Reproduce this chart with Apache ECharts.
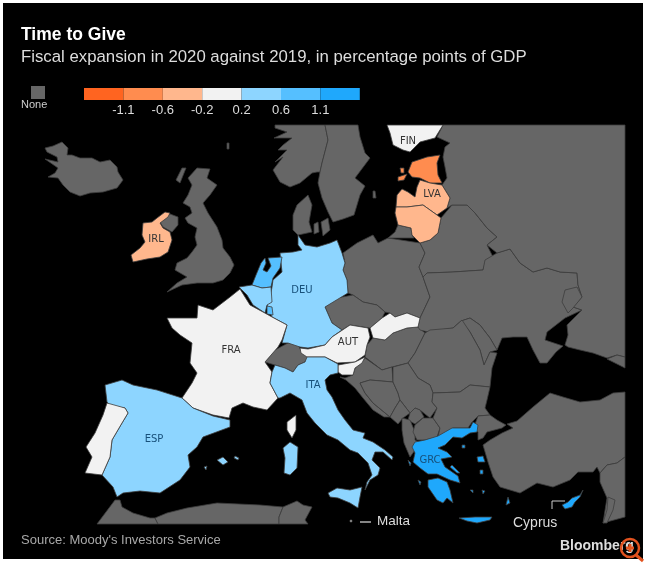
<!DOCTYPE html>
<html>
<head>
<meta charset="utf-8">
<title>Time to Give</title>
<script src="https://cdn.jsdelivr.net/npm/echarts@6/dist/echarts.min.js"></script>
<style>
  html, body { margin: 0; background: #fff; }
  #frame { position: absolute; left: 3px; top: 3px; width: 640px; height: 556px; background: #000; }
  #chart { position: absolute; left: 0; top: 0; width: 648px; height: 566px; }
</style>
</head>
<body>
<div id="frame"></div>
<div id="chart"></div>
<script>
const countries = ['IRL', 'EST', 'LVA', 'LTU', 'FIN', 'FRA', 'PRT', 'AUT', 'SVN', 'SVK', 'MLT', 'ESP', 'DEU', 'BEL', 'ITA', 'NLD', 'LUX', 'GRC', 'CYP'];
const expansion = [-0.4, -0.9, -0.4, -0.4, 0, 0, 0, 0, 0, 0, 0, 0.4, 0.4, 0.4, 0.4, 0.8, 0.8, 1.3, 1.3];
const labelled = ['FIN', 'LVA', 'IRL', 'DEU', 'FRA', 'AUT', 'ITA', 'ESP', 'GRC'];
const blueLabels = ['DEU', 'ITA', 'ESP', 'GRC'];
const legendBreaks = [-1.1, -0.6, -0.2, 0.2, 0.6, 1.1];
const legendColors = ['#ff6420', '#ff8c4f', '#ffb78d', '#f2f2f2', '#8dd5ff', '#55bfff', '#1fa8fc'];

// where the country code sits inside each labelled shape
const labelSpots = {
  FIN: [408, 141], LVA: [432, 194], IRL: [156, 239], DEU: [302, 290], FRA: [231, 350],
  AUT: [348, 342], ITA: [313, 385], ESP: [154, 439], GRC: [430, 460]
};

// base map: hand traced outlines, one list of rings per country, in the map's own plane
const outlines = {
  ISL: [[[45,148],[53,146],[62,142],[68,148],[67,155],[72,155],[80,158],[92,158],[100,162],[110,160],[117,167],[118,172],[123,180],[117,188],[103,192],[90,193],[80,196],[70,192],[63,185],[58,178],[48,177],[55,173],[58,168],[45,159],[58,162],[57,157],[47,152]]],
  GBR: [[[197,168],[210,169],[207,178],[217,185],[210,195],[203,203],[208,213],[217,227],[222,240],[223,248],[230,257],[234,265],[230,273],[223,280],[213,283],[197,283],[182,285],[167,292],[177,283],[187,277],[175,270],[177,263],[187,258],[192,252],[197,245],[195,237],[197,228],[188,223],[185,218],[192,213],[190,207],[183,203],[188,195],[192,185],[188,178]],
    [[182,168],[186,168],[180,183],[176,180]], [[227,143],[229,143],[229,149],[227,149]],
    [[160,222],[170,214],[178,217],[178,225],[172,232],[163,227]]],
  NOR: [[[275,125],[325,125],[328,140],[322,163],[320,172],[317,172],[312,173],[300,183],[290,187],[280,182],[273,170],[283,157],[275,162],[287,150],[278,150],[283,145],[292,138],[274,138],[287,132],[275,128]]],
  SWE: [[[325,125],[358,125],[360,137],[365,153],[370,158],[355,178],[365,186],[360,195],[354,215],[343,219],[333,222],[328,212],[322,198],[318,183],[320,172],[322,163],[328,140]],
    [[373,191],[375,191],[376,198],[373,198]]],
  DNK: [[[308,195],[312,205],[309,222],[312,232],[298,235],[293,230],[293,215],[297,205]], [[314,224],[318,222],[319,232],[314,234]], [[321,222],[328,218],[330,230],[323,236]]],
  POL: [[[343,253],[357,243],[373,235],[378,243],[388,238],[420,243],[425,253],[419,267],[423,277],[430,297],[420,318],[407,313],[395,317],[390,313],[385,312],[377,305],[363,302],[353,295],[348,293],[347,280],[343,270],[345,263]]],
  KGD: [[[398,225],[411,228],[412,235],[414,238],[388,238],[395,232]]],
  CZE: [[[325,307],[337,298],[353,295],[363,302],[377,305],[385,312],[382,318],[370,328],[350,325],[342,330],[332,323]]],
  HUN: [[[367,345],[373,338],[385,340],[393,333],[407,328],[418,327],[425,333],[415,353],[408,363],[392,367],[382,370],[365,357]]],
  BLR: [[[420,243],[430,240],[438,233],[441,218],[452,205],[467,205],[475,213],[487,228],[497,237],[487,245],[493,257],[485,263],[483,270],[453,272],[427,273],[423,277],[419,267],[425,253]]],
  UKR: [[[427,273],[453,272],[483,270],[485,260],[497,253],[510,249],[520,263],[533,272],[547,268],[560,272],[577,273],[578,285],[582,297],[573,307],[582,310],[565,318],[547,332],[545,340],[563,346],[556,352],[547,363],[540,363],[533,350],[527,337],[513,337],[502,338],[497,350],[490,338],[480,325],[470,318],[461,321],[453,328],[428,332],[420,330],[418,327],[420,318],[430,297],[423,277]]],
  RUS: [[[443,125],[625,125],[625,357],[617,355],[607,358],[593,353],[580,350],[568,347],[565,345],[568,335],[567,325],[575,317],[582,310],[573,307],[582,297],[578,285],[577,273],[560,272],[547,268],[533,272],[520,263],[510,249],[497,253],[487,245],[497,237],[487,228],[475,213],[467,205],[452,205],[447,208],[450,198],[442,185],[447,178],[445,167],[443,157],[445,147],[450,143],[437,137]]],
  DON: [[[562,302],[565,290],[577,287],[582,297],[573,308],[568,313]]],
  GEO: [[[607,359],[617,355],[625,357],[625,368]]],
  MDA: [[[461,321],[470,318],[480,325],[490,338],[497,350],[490,352],[484,365],[480,350],[470,332]]],
  ROU: [[[415,353],[425,333],[430,330],[453,328],[462,320],[470,332],[480,350],[484,365],[490,352],[497,353],[492,368],[490,387],[470,385],[460,392],[433,393],[430,385],[418,378],[408,363]]],
  HRV: [[[362,362],[365,358],[382,370],[392,367],[393,382],[370,380],[360,383],[365,393],[373,403],[390,417],[384,417],[373,410],[363,398],[355,388],[346,380],[340,377],[345,378],[353,375],[355,368]]],
  BIH: [[[360,383],[370,380],[393,382],[398,393],[400,400],[395,408],[390,417],[373,403],[365,393]]],
  SRB: [[[393,367],[408,363],[418,378],[430,385],[433,393],[432,402],[437,408],[430,418],[420,410],[415,408],[410,413],[400,400],[398,393],[393,382]]],
  MNE: [[[390,417],[395,408],[400,400],[410,413],[403,418],[398,424]]],
  KOS: [[[410,413],[415,408],[420,410],[424,417],[415,424],[408,420]]],
  ALB: [[[402,418],[410,420],[415,432],[415,440],[420,443],[410,457],[404,443],[402,430]]],
  MKD: [[[415,425],[423,418],[433,418],[440,428],[437,437],[425,440],[417,440],[413,432]]],
  BGR: [[[433,393],[460,392],[470,385],[490,387],[487,400],[485,408],[490,415],[478,416],[472,422],[468,428],[453,428],[438,437],[440,428],[433,418],[437,408],[432,402]]],
  THR: [[[478,416],[490,415],[497,420],[506,425],[502,428],[487,432],[483,438],[478,440],[478,432],[474,427]]],
  TUR: [[[625,392],[613,393],[600,400],[580,402],[563,397],[550,393],[533,407],[517,421],[507,424],[513,428],[502,433],[490,440],[483,445],[488,462],[493,477],[500,487],[520,493],[537,483],[553,487],[570,480],[578,472],[593,472],[597,467],[600,473],[607,465],[617,463],[625,457]]],
  SYR: [[[600,473],[607,465],[617,463],[625,457],[625,517],[603,523],[607,498],[600,482]]],
  LBN: [[[608,497],[615,500],[613,510],[607,523],[603,523],[607,510]]],
  MAR: [[[115,500],[120,500],[122,507],[133,513],[150,518],[155,518],[158,524],[97,524]]],
  DZA: [[[155,518],[167,513],[187,508],[217,503],[260,505],[283,507],[279,517],[279,524],[158,524]]],
  TUN: [[[283,507],[297,501],[303,505],[312,507],[305,520],[308,524],[279,524],[279,517]]],
  CHE: [[[265,362],[275,350],[288,343],[298,345],[302,352],[308,357],[305,362],[298,365],[293,372],[285,368],[275,365]]],
  IRL: [[[157,218],[165,212],[170,213],[168,217],[160,223],[163,228],[170,232],[172,240],[168,252],[160,257],[147,259],[133,262],[131,255],[140,248],[145,242],[142,235],[143,223],[152,222]]],
  FIN: [[[387,125],[443,125],[435,138],[420,142],[410,152],[403,150],[393,145],[390,133]]],
  EST: [[[408,172],[412,162],[427,157],[440,155],[437,163],[438,175],[442,183],[430,183],[420,178],[412,177]],
    [[400,168],[404,168],[404,173],[401,173]], [[398,177],[404,175],[407,174],[404,180],[398,181]]],
  LVA: [[[396,207],[397,195],[402,189],[408,192],[415,197],[417,187],[420,180],[430,183],[442,185],[450,198],[447,208],[437,215],[423,205],[407,207]]],
  LTU: [[[396,207],[407,207],[423,205],[437,215],[441,218],[438,233],[430,240],[420,243],[412,235],[411,228],[398,225],[395,213]]],
  DEU: [[[298,235],[305,245],[317,247],[330,243],[337,240],[342,253],[345,263],[343,270],[347,280],[348,293],[325,307],[332,323],[342,330],[332,337],[325,345],[308,348],[300,347],[288,343],[282,343],[287,325],[272,317],[267,305],[270,298],[272,287],[273,280],[282,272],[280,253],[293,252],[302,250],[298,245]]],
  NLD: [[[252,285],[256,275],[261,263],[265,258],[266,263],[263,270],[267,272],[271,266],[268,258],[282,257],[280,268],[273,278],[271,287],[262,288]]],
  BEL: [[[239,287],[252,285],[262,288],[271,287],[272,302],[267,305],[265,313],[253,305],[247,295]]],
  LUX: [[[267,306],[272,307],[273,315],[267,314]]],
  FRA: [[[167,318],[197,318],[198,305],[213,310],[230,297],[240,289],[250,305],[263,312],[272,317],[287,325],[282,340],[278,347],[265,362],[272,372],[270,383],[278,398],[267,410],[253,407],[243,403],[232,408],[229,418],[213,415],[193,408],[182,398],[192,383],[197,373],[190,363],[192,343],[180,335],[172,328]],
    [[296,415],[296,430],[292,438],[287,430],[287,422]]],
  ESP: [[[105,385],[122,380],[133,385],[157,390],[182,398],[193,408],[213,416],[230,420],[230,427],[203,437],[197,447],[188,455],[190,467],[180,480],[160,493],[140,491],[123,493],[117,497],[113,487],[102,475],[110,457],[112,440],[122,423],[128,413],[125,408],[110,406],[107,402]],
    [[217,460],[223,457],[228,462],[223,465]], [[235,456],[239,458],[238,460],[234,458]], [[204,467],[207,466],[206,470]]],
  PRT: [[[107,403],[125,408],[128,413],[122,423],[112,440],[110,457],[102,475],[85,473],[92,457],[86,447],[95,433],[103,415]]],
  AUT: [[[300,348],[308,349],[325,345],[332,337],[350,325],[368,328],[370,337],[367,345],[365,355],[355,362],[337,363],[325,357],[307,357],[301,353]]],
  SVN: [[[338,365],[355,362],[365,357],[362,363],[355,368],[353,375],[342,375],[338,372]]],
  SVK: [[[370,328],[382,318],[390,313],[395,317],[407,313],[420,318],[418,327],[407,328],[393,333],[385,340],[373,338]]],
  ITA: [[[272,372],[275,365],[285,368],[293,372],[298,365],[305,362],[307,357],[325,357],[338,364],[338,373],[330,375],[325,380],[327,390],[332,397],[338,410],[345,420],[353,430],[365,433],[363,438],[373,442],[385,450],[393,457],[392,460],[383,452],[375,452],[372,460],[380,468],[378,475],[370,480],[365,490],[367,482],[372,475],[368,463],[358,453],[350,450],[338,440],[327,435],[315,423],[307,413],[302,400],[290,393],[280,398],[278,398],[270,383]],
    [[328,493],[337,488],[350,490],[362,487],[360,497],[358,508],[350,503],[338,498],[330,497]],
    [[283,448],[290,442],[298,447],[297,468],[290,475],[284,473],[285,458]]],
  GRC: [[[415,442],[425,440],[438,436],[452,428],[470,428],[473,422],[478,425],[477,432],[470,433],[462,438],[453,437],[445,445],[438,448],[447,452],[452,457],[441,459],[445,467],[458,476],[460,483],[450,480],[437,474],[428,474],[420,468],[413,462],[415,453],[412,447]],
    [[428,480],[438,478],[447,482],[450,490],[453,503],[447,498],[443,503],[437,500],[428,487]],
    [[459,518],[475,517],[492,517],[490,520],[477,523],[467,521]],
    [[452,465],[460,473],[457,473],[450,467]], [[477,457],[483,456],[485,462],[478,462]], [[480,470],[483,470],[483,474],[480,474]],
    [[508,497],[510,503],[506,505]], [[408,460],[411,463],[410,466]], [[418,480],[421,482],[420,485]], [[462,445],[465,445],[465,448],[462,448]], [[470,490],[473,490],[473,493]], [[482,490],[485,491],[483,494]]],
  CYP: [[[562,505],[568,502],[572,498],[580,495],[583,490],[580,497],[575,502],[572,507],[565,509]]],
  MLT: [[[350,520],[352,520],[352,522],[350,522]]]
};

const features = Object.keys(outlines).map(function (code) {
  return {
    type: 'Feature',
    properties: { name: code, cp: labelSpots[code] },
    geometry: { type: 'MultiPolygon', coordinates: outlines[code].map(function (ring) { return [ring]; }) }
  };
});
echarts.registerMap('europe', { type: 'FeatureCollection', features: features });

const chartData = countries.map(function (code, i) {
  return {
    name: code,
    value: expansion[i],
    label: { show: labelled.indexOf(code) >= 0, color: blueLabels.indexOf(code) >= 0 ? '#17507a' : '#333' }
  };
});

const pieces = legendColors.map(function (color, i) {
  const piece = { color: color };
  if (i > 0) piece.gte = legendBreaks[i - 1];
  if (i < legendBreaks.length) piece.lt = legendBreaks[i];
  return piece;
});

const swatchLeft = 84, swatchWidth = 39.4;
const legendItems = [];
legendColors.forEach(function (color, i) {
  legendItems.push({ type: 'rect', shape: { x: swatchLeft + i * swatchWidth, y: 88, width: swatchWidth, height: 12 }, style: { fill: color } });
});
legendBreaks.forEach(function (tick, i) {
  legendItems.push({ type: 'text', x: swatchLeft + (i + 1) * swatchWidth, y: 110, style: { text: String(tick), fill: '#ddd', font: '13px "Liberation Sans"', textAlign: 'center', textVerticalAlign: 'middle' } });
});

function note(text, x, y, font, fill) {
  return { type: 'text', x: x, y: y, style: { text: text, font: font, fill: fill, textVerticalAlign: 'middle' } };
}
function stroke(points, color, width) {
  return { type: 'polyline', shape: { points: points }, style: { fill: null, stroke: color, lineWidth: width } };
}

const chart = echarts.init(document.getElementById('chart'));
chart.setOption({
  animation: false,
  title: {
    text: 'Time to Give',
    subtext: 'Fiscal expansion in 2020 against 2019, in percentage points of GDP',
    left: 16, top: 21, itemGap: 5,
    textStyle: { color: '#fff', fontFamily: 'Liberation Sans', fontWeight: 'bold', fontSize: 17.5 },
    subtextStyle: { color: '#ddd', fontFamily: 'Liberation Sans', fontSize: 16.8 }
  },
  visualMap: { type: 'piecewise', show: false, seriesIndex: 0, pieces: pieces },
  series: [{
    type: 'map',
    map: 'europe',
    silent: true,
    left: 0, top: 0, width: 648, height: 566,
    boundingCoords: [[0, 0], [648, 566]],
    projection: { project: function (p) { return p; }, unproject: function (p) { return p; } },
    itemStyle: { areaColor: '#666', borderColor: '#3d3d3d', borderWidth: 0.8 },
    label: { show: false, color: '#333', fontFamily: 'DejaVu Sans', fontSize: 10 },
    emphasis: { disabled: true },
    data: chartData
  }],
  graphic: legendItems.concat([
    { type: 'rect', shape: { x: 31, y: 86, width: 14, height: 13 }, style: { fill: '#666' } },
    note('None', 21, 105, '11px "Liberation Sans"', '#ccc'),
    stroke([[360, 522], [371, 522]], '#ddd', 1.2),
    note('Malta', 377, 521, '13.5px "Liberation Sans"', '#ddd'),
    stroke([[552, 509], [552, 501], [565, 501]], '#ccc', 1),
    note('Cyprus', 513, 523, '14px "Liberation Sans"', '#ddd'),
    note('Source: Moody\'s Investors Service', 21, 540, '13px "Liberation Sans"', '#a8a8a8'),
    note('Bloomberg', 560, 546, 'bold 14px "Liberation Sans"', '#ddd'),
    { type: 'circle', shape: { cx: 630, cy: 548, r: 9 }, style: { fill: null, stroke: '#e2521f', lineWidth: 2.5 } },
    stroke([[636, 555], [643, 561]], '#e2521f', 3),
    stroke([[626, 548], [634, 548]], '#e2521f', 3),
    stroke([[630, 544], [630, 552]], '#e2521f', 3)
  ])
});
</script>
</body>
</html>
